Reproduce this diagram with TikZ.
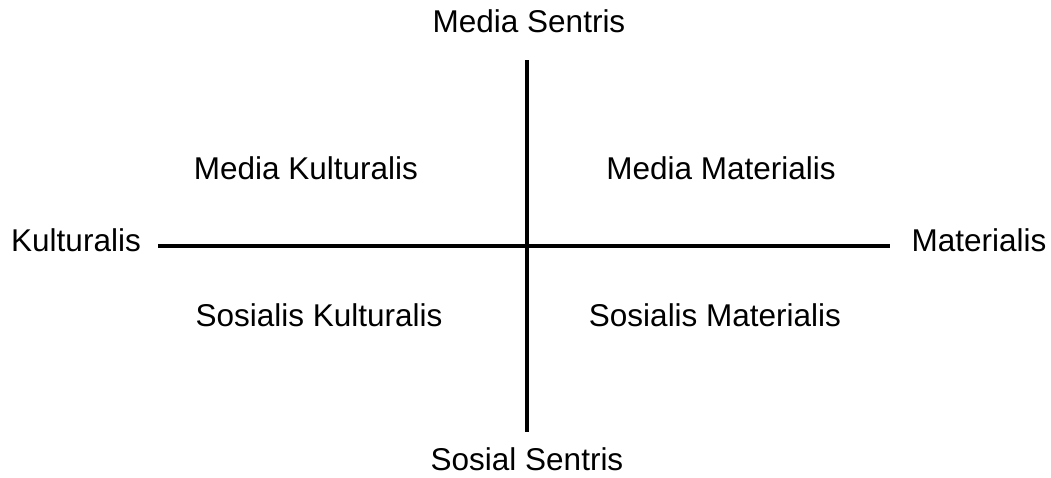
\documentclass[tikz,border=0pt]{standalone}
\usepackage{fontspec}
\setmainfont{Liberation Sans}
\begin{document}
\begin{tikzpicture}[x=1pt,y=-1pt,
  lbl/.style={anchor=base,inner sep=0pt,font=\fontsize{31.5}{37}\selectfont},
  axis/.style={line width=4pt}]
\useasboundingbox (0,0) rectangle (1051,477);
\node[lbl] (top) at (529,32) {Media Sentris};
\node[lbl] (bot) at (527,470) {Sosial Sentris};
\node[lbl] (left) at (76,251) {Kulturalis};
\node[lbl] (right) at (979,251) {Materialis};
\node[lbl] (q1) at (306,179) {Media Kulturalis};
\node[lbl] (q2) at (721,179) {Media Materialis};
\node[lbl] (q3) at (319,326) {Sosialis Kulturalis};
\node[lbl] (q4) at (715,326) {Sosialis Materialis};
\coordinate (vt) at (527,60);
\coordinate (vb) at (527,432);
\coordinate (hl) at (158,246);
\coordinate (hr) at (890,246);
\draw[axis] (vt) -- (vb);
\draw[axis] (hl) -- (hr);
\end{tikzpicture}
\end{document}
